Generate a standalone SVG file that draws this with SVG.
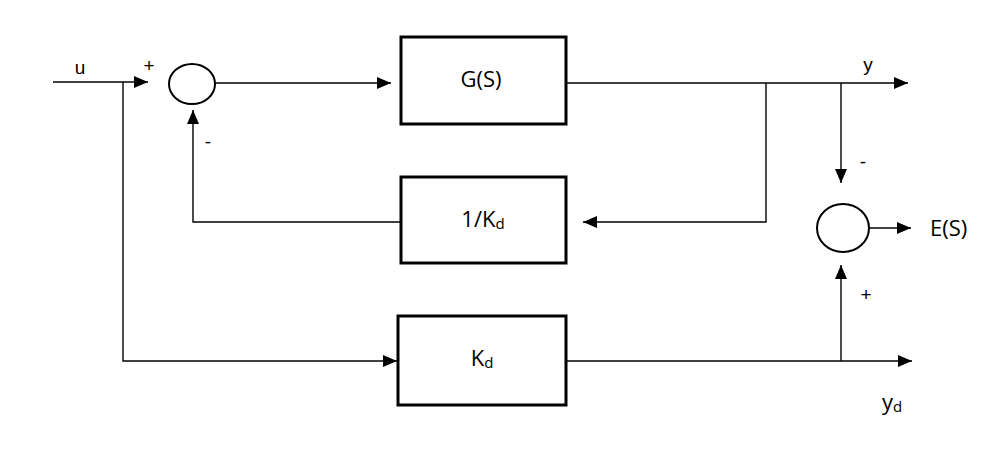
<svg xmlns="http://www.w3.org/2000/svg" width="1007" height="449" viewBox="0 0 1007 449">
<style>
.ln{fill:none;stroke:#000;stroke-width:1.4}
.box{fill:#fff;stroke:#000;stroke-width:3}
.sum{fill:#fff;stroke:#000;stroke-width:2}
.t{font-family:"Open Sans","Liberation Sans",sans-serif;font-size:22px;fill:#000}
.s{font-family:"Liberation Sans",Arial,sans-serif;font-size:19px;fill:#000}
.sub{font-size:15px}
</style>
<defs>
<marker id="ah" viewBox="0 0 14 12" refX="14" refY="6" markerWidth="14" markerHeight="12" markerUnits="userSpaceOnUse" orient="auto">
<path d="M0,0 L14,6 L0,12 Z" fill="#000"/>
</marker>
</defs>
<rect width="1007" height="449" fill="#fff"/>
<g id="connectors">
<path class="ln" d="M53,82 H148" marker-end="url(#ah)"/>
<path class="ln" d="M123,82 V361 H397" marker-end="url(#ah)"/>
<path class="ln" d="M215,83 H391" marker-end="url(#ah)"/>
<path class="ln" d="M566,83 H908" marker-end="url(#ah)"/>
<path class="ln" d="M766,83 V222 H583" marker-end="url(#ah)"/>
<path class="ln" d="M401,222 H193 V110" marker-end="url(#ah)"/>
<path class="ln" d="M841,83 V183" marker-end="url(#ah)"/>
<path class="ln" d="M869,228 H911" marker-end="url(#ah)"/>
<path class="ln" d="M566,361 H912" marker-end="url(#ah)"/>
<path class="ln" d="M841,361 V265" marker-end="url(#ah)"/>
</g>
<g id="sum1"><ellipse class="sum" cx="192" cy="84" rx="23" ry="20"/></g>
<g id="sum2"><ellipse class="sum" cx="843" cy="228" rx="26" ry="24"/></g>
<g id="G"><rect class="box" x="401" y="37" width="165" height="87"/><text class="t" x="481" y="87" text-anchor="middle">G(S)</text></g>
<g id="invKd"><rect class="box" x="401" y="177" width="165" height="86"/><text class="t" x="483" y="227" text-anchor="middle">1/K<tspan class="sub" dy="2">d</tspan></text></g>
<g id="Kd"><rect class="box" x="398" y="316" width="168" height="89"/><text class="t" x="482" y="366" text-anchor="middle">K<tspan class="sub" dy="2">d</tspan></text></g>
<g id="labels">
<text class="s" x="80" y="74" text-anchor="middle">u</text>
<text class="s" x="149" y="72" text-anchor="middle">+</text>
<text class="s" x="208" y="148" text-anchor="middle">-</text>
<text class="s" x="868" y="71" text-anchor="middle">y</text>
<text class="s" x="863" y="168" text-anchor="middle">-</text>
<text class="s" x="866" y="301" text-anchor="middle">+</text>
<text class="t" x="930" y="236">E(S)</text>
<text class="t" x="882" y="410">y<tspan class="sub" dy="2">d</tspan></text>
</g>
</svg>
